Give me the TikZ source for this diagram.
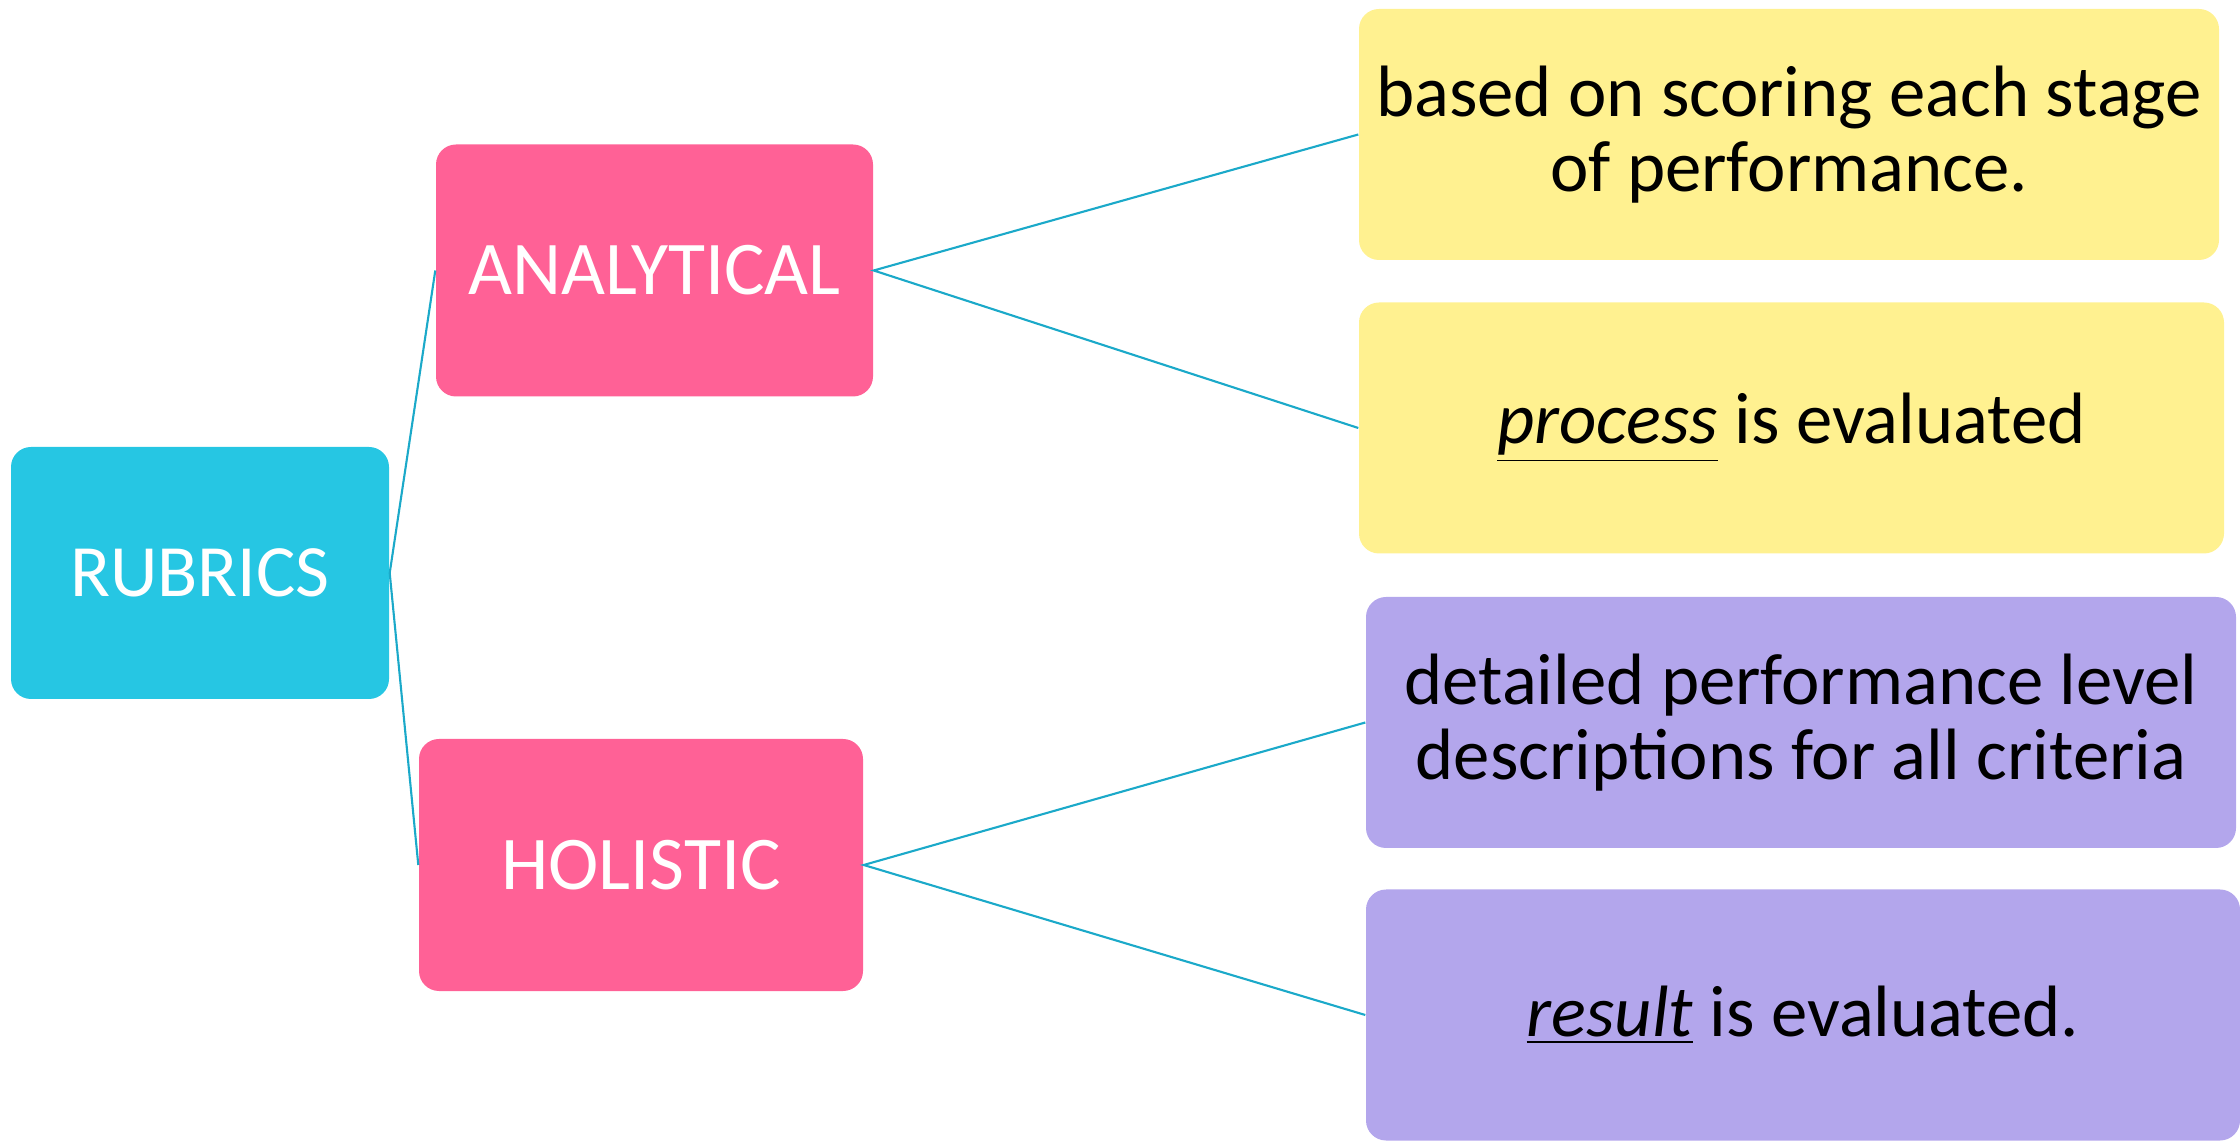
\documentclass[tikz,border=0pt]{standalone}
\usepackage{fontspec}
\setmainfont{Carlito}
\usetikzlibrary{positioning}
\definecolor{rubricblue}{HTML}{26C6E3}
\definecolor{typepink}{HTML}{FF6196}
\definecolor{noteyellow}{HTML}{FFF190}
\definecolor{notepurple}{HTML}{B3A6EC}
\definecolor{linkblue}{HTML}{1BA9C9}
\tikzset{
rootbox/.style={
	  fill=rubricblue, rounded corners=0.2cm, text=white,
	    minimum width=3.78cm, minimum height=2.52cm, font=\fontsize{21}{25}\selectfont},
typebox/.style={
	  fill=typepink, rounded corners=0.2cm, text=white,
	    minimum width=4.4cm, minimum height=2.52cm, font=\fontsize{21.6}{25}\selectfont},
notebox/.style={
	  rounded corners=0.2cm, text=black, align=center,
	    minimum width=8.65cm, minimum height=2.51cm, font=\fontsize{20.7}{21.5}\selectfont},
link/.style={draw=linkblue, line width=0.6pt}
}

\begin{document}
\begin{tikzpicture}
	\useasboundingbox (0,0) rectangle (22.4,11.4);
	\node[rootbox] (rubrics) at (2.00,5.67) {RUBRICS};
	\node[typebox, minimum width=4.37cm] (analytical) at (6.545,8.695) {ANALYTICAL};
	\node[typebox, minimum width=4.44cm] (holistic) at (6.41,2.75) {HOLISTIC};
	\node[notebox, fill=noteyellow, minimum width=8.60cm] (scoring) at (17.89,10.055)
		{based on scoring each stage\\of performance.};
	\node[notebox, fill=noteyellow] (process) at (17.915,7.12)
		{\underline{\textit{process}} is evaluated};
	\node[notebox, fill=notepurple, minimum width=8.70cm] (levels) at (18.01,4.175)
		{detailed performance level\\descriptions for all criteria};
	\node[notebox, fill=notepurple, minimum width=8.74cm] (result) at (18.03,1.25)
		{\underline{\textit{result}} is evaluated.};
	\draw[link] (analytical.west) -- (rubrics.east) -- (holistic.west);
	\draw[link] (scoring.west) -- (analytical.east) -- (process.west);
	\draw[link] (levels.west) -- (holistic.east) -- (result.west);
\end{tikzpicture}
\end{document}
